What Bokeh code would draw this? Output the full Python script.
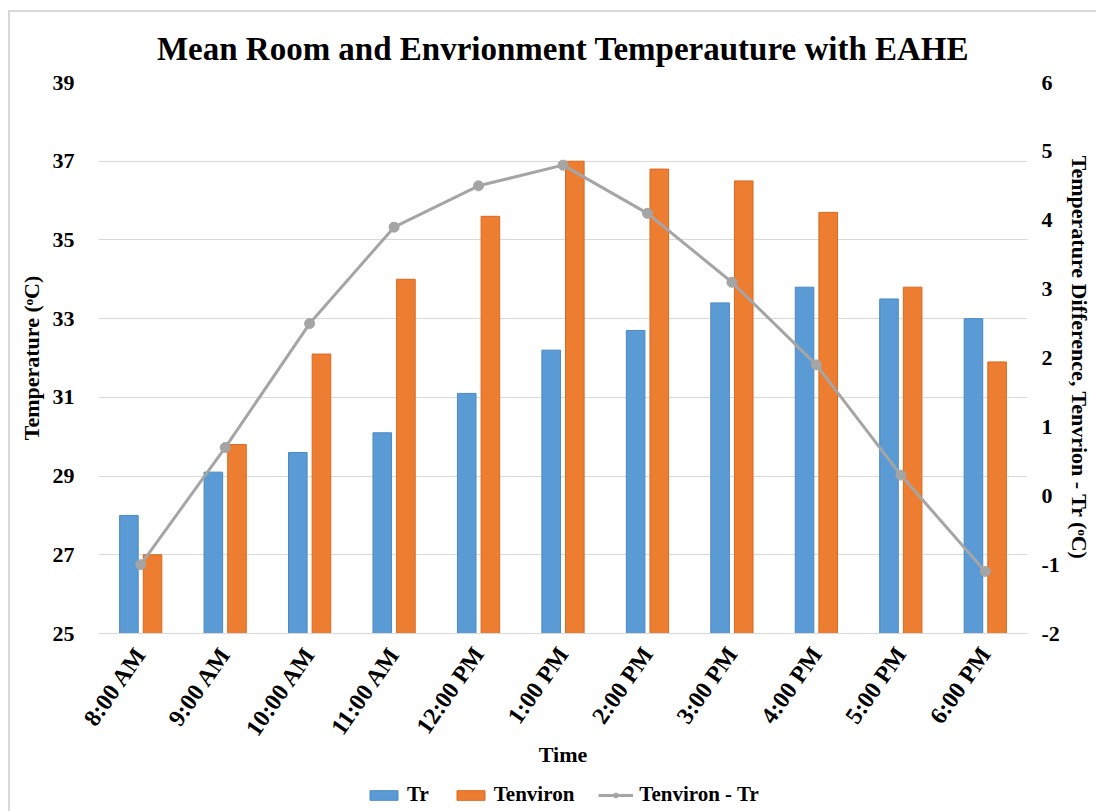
from bokeh.plotting import figure
from bokeh.layouts import column
from bokeh.models import (FactorRange, Range1d, LinearAxis, FixedTicker, Legend,
                          LegendItem, PrintfTickFormatter)
from bokeh.transform import dodge
from bokeh.embed import file_html
from bokeh.resources import INLINE
import math

times = ["8:00 AM", "9:00 AM", "10:00 AM", "11:00 AM", "12:00 PM", "1:00 PM",
         "2:00 PM", "3:00 PM", "4:00 PM", "5:00 PM", "6:00 PM"]
tr = [28.0, 29.1, 29.6, 30.1, 31.1, 32.2, 32.7, 33.4, 33.8, 33.5, 33.0]
tenviron = [27.0, 29.8, 32.1, 34.0, 35.6, 37.0, 36.8, 36.5, 35.7, 33.8, 31.9]
diff = [-1.0, 0.7, 2.5, 3.9, 4.5, 4.8, 4.1, 3.1, 1.9, 0.3, -1.1]
left_ticks = [25, 27, 29, 31, 33, 35, 37, 39]
right_ticks = [-2, -1, 0, 1, 2, 3, 4, 5, 6]
series_names = ["Tr", "Tenviron", "Tenviron - Tr"]

FONT = "Liberation Serif"
BLUE = "#5B9BD5"
ORANGE = "#ED7D31"
GRAY = "#A5A5A5"
BLUE_EDGE = "#4A89C5"
ORANGE_EDGE = "#D9691F"
NAN = float("nan")

# page offset for the outer chart border
OX, OY = 10, 12
W = 1096 - OX
LEG_H = 32
MAIN_H = 811 - OY - LEG_H

p = figure(width=W, height=MAIN_H, x_range=FactorRange(*times),
           y_range=Range1d(25, 39), output_backend="svg", toolbar_location=None,
           min_border_left=98 - OX, min_border_right=W - (1027 - OX),
           min_border_top=82 - OY, min_border_bottom=MAIN_H - (633 - OY))
p.extra_y_ranges = {"diff": Range1d(-2, 6)}

p.title.text = "Mean Room and Envrionment Temperauture with EAHE"
p.title.align = "center"
p.title.text_font = FONT
p.title.text_font_size = "33px"
p.title.text_font_style = "bold"
p.title.text_color = "#000000"
p.title.standoff = 31

p.outline_line_color = None
p.background_fill_color = "white"
p.border_fill_color = "white"

p.vbar(x=dodge("x", -0.14, range=p.x_range), top="top", bottom=25, width=0.22,
       source={"x": times, "top": tr}, fill_color=BLUE, line_color=BLUE_EDGE,
       line_width=1)
p.vbar(x=dodge("x", 0.14, range=p.x_range), top="top", bottom=25, width=0.22,
       source={"x": times, "top": tenviron}, fill_color=ORANGE, line_color=ORANGE_EDGE,
       line_width=1)
p.line(x=times, y=diff, y_range_name="diff", line_color=GRAY, line_width=3)
p.scatter(x=times, y=diff, y_range_name="diff", size=10, fill_color=GRAY,
          line_color=GRAY)

# left axis
ya = p.yaxis[0]
ya.ticker = FixedTicker(ticks=left_ticks)
ya.axis_label = "Temperature (ᵒC)"
ya.axis_line_color = None
ya.major_tick_line_color = None
ya.minor_tick_line_color = None
ya.major_label_text_font = FONT
ya.major_label_text_font_style = "bold"
ya.major_label_text_font_size = "22px"
ya.major_label_text_color = "#000000"
ya.axis_label_text_font = FONT
ya.axis_label_text_font_style = "bold"
ya.axis_label_text_font_size = "22px"
ya.axis_label_text_color = "#000000"
ya.major_label_standoff = 18
ya.axis_label_standoff = 6

ry = LinearAxis(y_range_name="diff", ticker=FixedTicker(ticks=right_ticks),
                formatter=PrintfTickFormatter(format="%d"))
ry.axis_label = "Temperature Difference, Tenvrion - Tr (ᵒC)"
ry.axis_line_color = None
ry.major_tick_line_color = None
ry.minor_tick_line_color = None
ry.major_label_text_font = FONT
ry.major_label_text_font_style = "bold"
ry.major_label_text_font_size = "22px"
ry.major_label_text_color = "#000000"
ry.axis_label_text_font = FONT
ry.axis_label_text_font_style = "bold"
ry.axis_label_text_font_size = "22px"
ry.axis_label_text_color = "#000000"
ry.major_label_standoff = 8
ry.axis_label_standoff = 4
p.add_layout(ry, "right")

xa = p.xaxis[0]
xa.axis_label = "Time"
xa.axis_line_color = "#D9D9D9"
xa.axis_line_width = 1
xa.major_tick_line_color = None
xa.minor_tick_line_color = None
xa.major_label_orientation = math.radians(55)
xa.major_label_text_font = FONT
xa.major_label_text_font_style = "bold"
xa.major_label_text_font_size = "24px"
xa.major_label_text_color = "#000000"
xa.major_label_standoff = 10
xa.axis_label_text_font = FONT
xa.axis_label_text_font_style = "bold"
xa.axis_label_text_font_size = "22px"
xa.axis_label_text_color = "#000000"
xa.axis_label_standoff = -9

p.xgrid.grid_line_color = None
p.ygrid.grid_line_color = "#D9D9D9"
p.ygrid.grid_line_width = 1

# legend strip (separate small figure below the chart); its swatch renderers
# hold only NaN coordinates so nothing but the legend is drawn
lf = figure(width=W, height=LEG_H, output_backend="svg", toolbar_location=None,
            x_range=Range1d(0, 1), y_range=Range1d(0, 1),
            min_border=0, outline_line_color=None)
lf.axis.visible = False
lf.grid.visible = False
r1 = lf.vbar(x=[NAN], top=[NAN], bottom=NAN, width=0.1, fill_color=BLUE,
             line_color=BLUE_EDGE)
r2 = lf.vbar(x=[NAN], top=[NAN], bottom=NAN, width=0.1, fill_color=ORANGE,
             line_color=ORANGE_EDGE)
r3 = lf.line(x=[NAN, NAN], y=[NAN, NAN], line_color=GRAY, line_width=3)
r4 = lf.scatter(x=[NAN], y=[NAN], size=10, fill_color=GRAY, line_color=GRAY)
legend = Legend(items=[LegendItem(label=series_names[0], renderers=[r1]),
                       LegendItem(label=series_names[1], renderers=[r2]),
                       LegendItem(label=series_names[2], renderers=[r3, r4])],
                orientation="horizontal", location=(268, 4),
                label_text_font=FONT, label_text_font_style="bold",
                label_text_font_size="21px", label_text_color="#000000",
                glyph_width=35, glyph_height=12, spacing=24, label_standoff=6,
                border_line_color=None, background_fill_alpha=0,
                padding=0, margin=0)
lf.add_layout(legend)

layout = column(p, lf, spacing=0)
layout.styles = {"margin-left": "8px", "margin-top": "10px",
                 "border-left": "2px solid #D9D9D9", "border-top": "2px solid #D9D9D9"}

open("out.html", "w").write(file_html(layout, INLINE))
